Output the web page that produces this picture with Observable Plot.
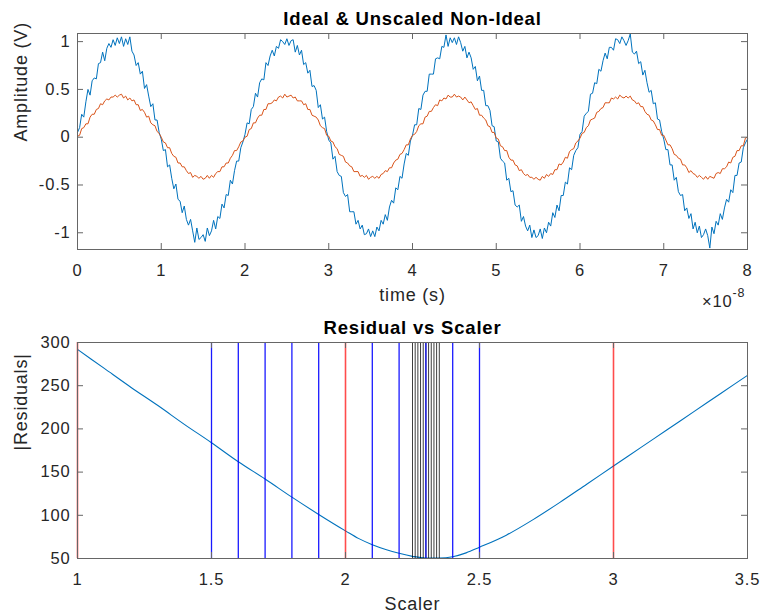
<!DOCTYPE html>
<html><head><meta charset="utf-8">
<script src="https://cdn.jsdelivr.net/npm/d3@7"></script>
<script src="https://cdn.jsdelivr.net/npm/@observablehq/plot@0.6"></script>
<style>
body{margin:0;background:#fff;}
#chart svg{display:block;}
</style></head><body><div id="chart"></div>
<script>
// ---- Top panel data (time in units of 1e-8 s, sampled every 0.025) ----
const timeStep = 0.025;
const idealV = [
 0.05,0.10,0.24,0.21,0.37,0.50,0.44,0.59,0.62,0.61, 0.77,0.78,0.89,0.80,0.93,0.98,0.94,1.02,0.96,1.04,
 0.98,1.05,0.95,1.03,0.97,1.05,0.90,0.86,0.75,0.78, 0.66,0.69,0.51,0.55,0.43,0.32,0.35,0.18,0.18,0.05,
 -0.02,-0.14,-0.13,-0.31,-0.29,-0.43,-0.54,-0.49,-0.65,-0.67, -0.79,-0.72,-0.86,-0.92,-0.86,-0.98,-1.10,-0.95,-1.07,-1.05,
 -1.02,-1.09,-0.95,-1.03,-0.98,-0.87,-0.96,-0.83,-0.85,-0.70, -0.74,-0.60,-0.61,-0.45,-0.49,-0.35,-0.25,-0.25,-0.11,-0.05,
 0.03,0.15,0.14,0.29,0.32,0.46,0.42,0.57,0.61,0.60, 0.78,0.75,0.85,0.91,0.85,0.95,0.93,1.02,1.00,0.97,
 1.03,0.96,1.01,1.02,0.89,0.96,0.86,0.91,0.76,0.78, 0.67,0.70,0.53,0.54,0.49,0.31,0.34,0.19,0.21,0.06,
 -0.03,-0.06,-0.23,-0.20,-0.36,-0.40,-0.41,-0.58,-0.62,-0.60, -0.78,-0.78,-0.78,-0.91,-0.87,-0.96,-0.92,-1.02,-1.01,-0.96,
 -1.04,-0.98,-1.04,-0.94,-0.98,-0.87,-0.91,-0.81,-0.87,-0.73, -0.66,-0.69,-0.53,-0.55,-0.41,-0.43,-0.28,-0.17,-0.19,-0.04,
 0.02,0.13,0.13,0.30,0.29,0.44,0.48,0.48,0.66,0.66, 0.66,0.82,0.83,0.82,0.95,0.94,1.07,0.95,1.04,0.99,
 1.04,0.97,1.05,0.99,0.90,0.95,0.83,0.89,0.83,0.71, 0.74,0.59,0.64,0.49,0.49,0.33,0.33,0.28,0.12,0.11,
 -0.04,-0.05,-0.22,-0.25,-0.27,-0.45,-0.43,-0.57,-0.56,-0.71, -0.73,-0.71,-0.88,-0.83,-0.93,-0.98,-0.92,-1.05,-0.97,-1.05,
 -1.03,-0.96,-1.06,-0.95,-1.00,-0.89,-0.93,-0.79,-0.84,-0.71, -0.77,-0.61,-0.61,-0.47,-0.49,-0.32,-0.34,-0.19,-0.14,-0.11,
 0.03,0.06,0.22,0.25,0.27,0.45,0.46,0.57,0.56,0.71, 0.69,0.80,0.88,0.82,0.94,0.94,0.91,1.03,1.02,0.98,
 1.05,1.01,0.96,1.01,1.08,0.89,0.87,0.90,0.77,0.79, 0.65,0.70,0.57,0.47,0.49,0.35,0.36,0.19,0.18,0.06,
 -0.02,-0.13,-0.13,-0.29,-0.29,-0.45,-0.42,-0.57,-0.61,-0.60, -0.77,-0.74,-0.85,-0.80,-0.96,-0.89,-1.00,-0.93,-1.05,-1.02,
 -0.96,-1.03,-1.16,-0.94,-1.01,-0.88,-0.92,-0.80,-0.86,-0.74, -0.65,-0.68,-0.55,-0.58,-0.40,-0.40,-0.27,-0.26,-0.11,-0.06,
 -0.02
];
const nonIdealV = [
 0.01,0.02,0.09,0.10,0.14,0.14,0.21,0.24,0.24,0.29, 0.30,0.35,0.34,0.38,0.40,0.39,0.42,0.42,0.44,0.42,
 0.44,0.45,0.41,0.43,0.39,0.41,0.38,0.39,0.34,0.34, 0.28,0.29,0.26,0.21,0.22,0.15,0.13,0.12,0.06,0.04,
 0.00,-0.05,-0.06,-0.11,-0.11,-0.17,-0.20,-0.21,-0.27,-0.27, -0.31,-0.31,-0.35,-0.38,-0.37,-0.42,-0.40,-0.41,-0.43,-0.41,
 -0.44,-0.43,-0.40,-0.43,-0.40,-0.42,-0.38,-0.36,-0.36,-0.31, -0.31,-0.27,-0.27,-0.22,-0.19,-0.14,-0.14,-0.10,-0.05,-0.04,
 0.00,0.01,0.08,0.09,0.15,0.15,0.20,0.23,0.23,0.29, 0.29,0.35,0.35,0.36,0.39,0.38,0.42,0.43,0.41,0.45,
 0.42,0.43,0.44,0.41,0.42,0.38,0.38,0.38,0.34,0.35, 0.29,0.29,0.23,0.22,0.21,0.18,0.12,0.10,0.09,0.02,
 0.01,-0.04,-0.05,-0.10,-0.12,-0.18,-0.19,-0.20,-0.26,-0.27, -0.30,-0.31,-0.36,-0.36,-0.36,-0.41,-0.40,-0.42,-0.40,-0.44,
 -0.42,-0.41,-0.43,-0.41,-0.43,-0.39,-0.38,-0.35,-0.36,-0.32, -0.32,-0.27,-0.24,-0.23,-0.18,-0.17,-0.13,-0.08,-0.08,-0.02,
 0.02,0.03,0.06,0.12,0.14,0.14,0.21,0.22,0.27,0.27, 0.31,0.34,0.33,0.39,0.38,0.41,0.40,0.44,0.42,0.42,
 0.45,0.42,0.43,0.42,0.39,0.42,0.39,0.36,0.37,0.33, 0.29,0.30,0.23,0.23,0.20,0.18,0.12,0.11,0.05,0.05,
 -0.01,-0.02,-0.09,-0.10,-0.14,-0.14,-0.21,-0.24,-0.24,-0.29, -0.30,-0.35,-0.34,-0.38,-0.40,-0.39,-0.42,-0.42,-0.44,-0.42,
 -0.44,-0.45,-0.41,-0.43,-0.39,-0.41,-0.38,-0.39,-0.34,-0.34, -0.28,-0.29,-0.26,-0.21,-0.22,-0.15,-0.13,-0.12,-0.06,-0.04,
 -0.01,0.04,0.05,0.10,0.12,0.18,0.19,0.20,0.26,0.27, 0.30,0.31,0.36,0.36,0.36,0.41,0.40,0.42,0.40,0.44,
 0.42,0.41,0.43,0.41,0.43,0.39,0.38,0.35,0.36,0.32, 0.32,0.27,0.24,0.23,0.18,0.17,0.13,0.08,0.08,0.02,
 0.02,-0.03,-0.08,-0.08,-0.12,-0.18,-0.19,-0.22,-0.23,-0.29, -0.29,-0.32,-0.37,-0.35,-0.38,-0.39,-0.42,-0.40,-0.42,-0.44,
 -0.41,-0.44,-0.41,-0.42,-0.43,-0.38,-0.37,-0.38,-0.33,-0.33, -0.31,-0.26,-0.27,-0.21,-0.20,-0.14,-0.14,-0.09,-0.09,-0.01,
 0.00
];
const timeTicks = [0,1,2,3,4,5,6,7,8];
const ampTicks = [-1,-0.5,0,0.5,1];

// ---- Bottom panel data ----
const scaler    = [1.0,1.1,1.2,1.3,1.4,1.5,1.6,1.7,1.8,1.9,2.0,2.05,2.1,2.15,2.2,2.25,2.3,2.35,2.4,2.45,2.5,2.6,2.7,2.8,2.9,3.0,3.1,3.2,3.3,3.4,3.5];
const residuals = [292,270,248,227,205,184,162,142,121,101,82,73,66,60.5,56,52.5,50.5,50.5,52,56.5,63,77,95,115,136,157,178,199,220,241,262];
const scalerTicks = [1,1.5,2,2.5,3,3.5];
const residualTicks = [50,100,150,200,250,300];
const coarseScalers = [1,2,3];
const mediumScalers = [1.5,1.6,1.7,1.8,1.9,2.1,2.2,2.3,2.4,2.5];
const fineScalers = [2.25,2.26,2.27,2.28,2.29,2.30,2.31,2.32,2.33,2.34,2.35];

// ---- styling ----
const FONT = "'Liberation Sans', Arial, Helvetica, sans-serif";
const axisColor = "#666";
const textColor = "#262626";
const tickLen = 6;
const W = 761;

function panel({height, marginTop, marginBottom, marginLeft, marginRight, xDomain, yDomain, xTicks, yTicks, title, xLabel, yLabel, extraMarks, exponent}) {
  const fw = W - marginLeft - marginRight;
  const fh = height - marginTop - marginBottom;
  const txt = {fill: textColor, fontSize: 16.5};
  const marks = [
    ...extraMarks,
    Plot.frame({stroke: axisColor, strokeWidth: 1}),
    Plot.tickX(xTicks, {x: d => d, stroke: axisColor, insetTop: fh - tickLen}),
    Plot.tickX(xTicks, {x: d => d, stroke: axisColor, insetBottom: fh - tickLen}),
    Plot.tickY(yTicks, {y: d => d, stroke: axisColor, insetRight: fw - tickLen}),
    Plot.tickY(yTicks, {y: d => d, stroke: axisColor, insetLeft: fw - tickLen}),
    Plot.text(xTicks, {x: d => d, frameAnchor: "bottom", dy: 14.8, lineAnchor: "top", text: d => String(d), ...txt}),
    Plot.text(yTicks, {y: d => d, frameAnchor: "left", dx: -7, textAnchor: "end", lineAnchor: "middle", text: d => String(d), ...txt}),
    Plot.text([title], {frameAnchor: "top", dy: -21.5, lineAnchor: "top", text: d => d, fontWeight: "bold", fontSize: 18.5, fill: "#000"}),
    Plot.text([xLabel], {frameAnchor: "bottom", dy: 38.5, lineAnchor: "top", text: d => d, fontSize: 18, fill: textColor}),
    Plot.text([yLabel], {frameAnchor: "left", dx: 13.5 - marginLeft, rotate: -90, lineAnchor: "top", text: d => d, fontSize: 18, fill: textColor})
  ];
  if (exponent) {
    marks.push(
      Plot.text(["×10"], {frameAnchor: "bottom-right", dx: -15, dy: 46, textAnchor: "end", lineAnchor: "top", text: d => d, fontSize: 16.5, fill: textColor}),
      Plot.text([exponent], {frameAnchor: "bottom-right", dx: -15, dy: 38.5, textAnchor: "start", lineAnchor: "top", text: d => d, fontSize: 12.5, fill: textColor})
    );
  }
  return Plot.plot({
    width: W, height, marginTop, marginBottom, marginLeft, marginRight,
    style: {fontFamily: FONT, background: "#fff", letterSpacing: "0.8px", overflow: "visible"},
    x: {domain: xDomain, axis: null},
    y: {domain: yDomain, axis: null},
    marks
  });
}

const signalRows = idealV.map((v, i) => ({t: i * timeStep, ideal: v, nonIdeal: nonIdealV[i]}));

const topChart = panel({
  height: 310, marginTop: 33, marginBottom: 61, marginLeft: 77, marginRight: 14,
  xDomain: [0, 8], yDomain: [-1.175, 1.085],
  xTicks: timeTicks, yTicks: ampTicks,
  title: "Ideal & Unscaled Non-Ideal", xLabel: "time (s)", yLabel: "Amplitude (V)",
  exponent: "-8",
  extraMarks: [
    Plot.line(signalRows, {x: "t", y: "ideal", stroke: "#0072BD", strokeWidth: 1}),
    Plot.line(signalRows, {x: "t", y: "nonIdeal", stroke: "#D95319", strokeWidth: 1})
  ]
});

const residRows = scaler.map((s, i) => ({s, r: residuals[i]}));
const bottomChart = panel({
  height: 303, marginTop: 32, marginBottom: 55, marginLeft: 77, marginRight: 14,
  xDomain: [1, 3.5], yDomain: [50, 300],
  xTicks: scalerTicks, yTicks: residualTicks,
  title: "Residual vs Scaler", xLabel: "Scaler", yLabel: "|Residuals|",
  extraMarks: [
    Plot.line(residRows, {x: "s", y: "r", stroke: "#0072BD", strokeWidth: 1.1, curve: "monotone-x"}),
    Plot.ruleX(fineScalers, {x: d => d, stroke: "#000", strokeWidth: 0.9, strokeOpacity: 0.85}),
    Plot.ruleX(mediumScalers, {x: d => d, stroke: "#0000ff", strokeWidth: 1.3, strokeOpacity: 0.9}),
    Plot.ruleX(coarseScalers, {x: d => d, stroke: "#ff0000", strokeWidth: 1.6, strokeOpacity: 0.7})
  ]
});

const root = document.getElementById("chart");
root.appendChild(topChart);
root.appendChild(bottomChart);
</script>
</body></html>
